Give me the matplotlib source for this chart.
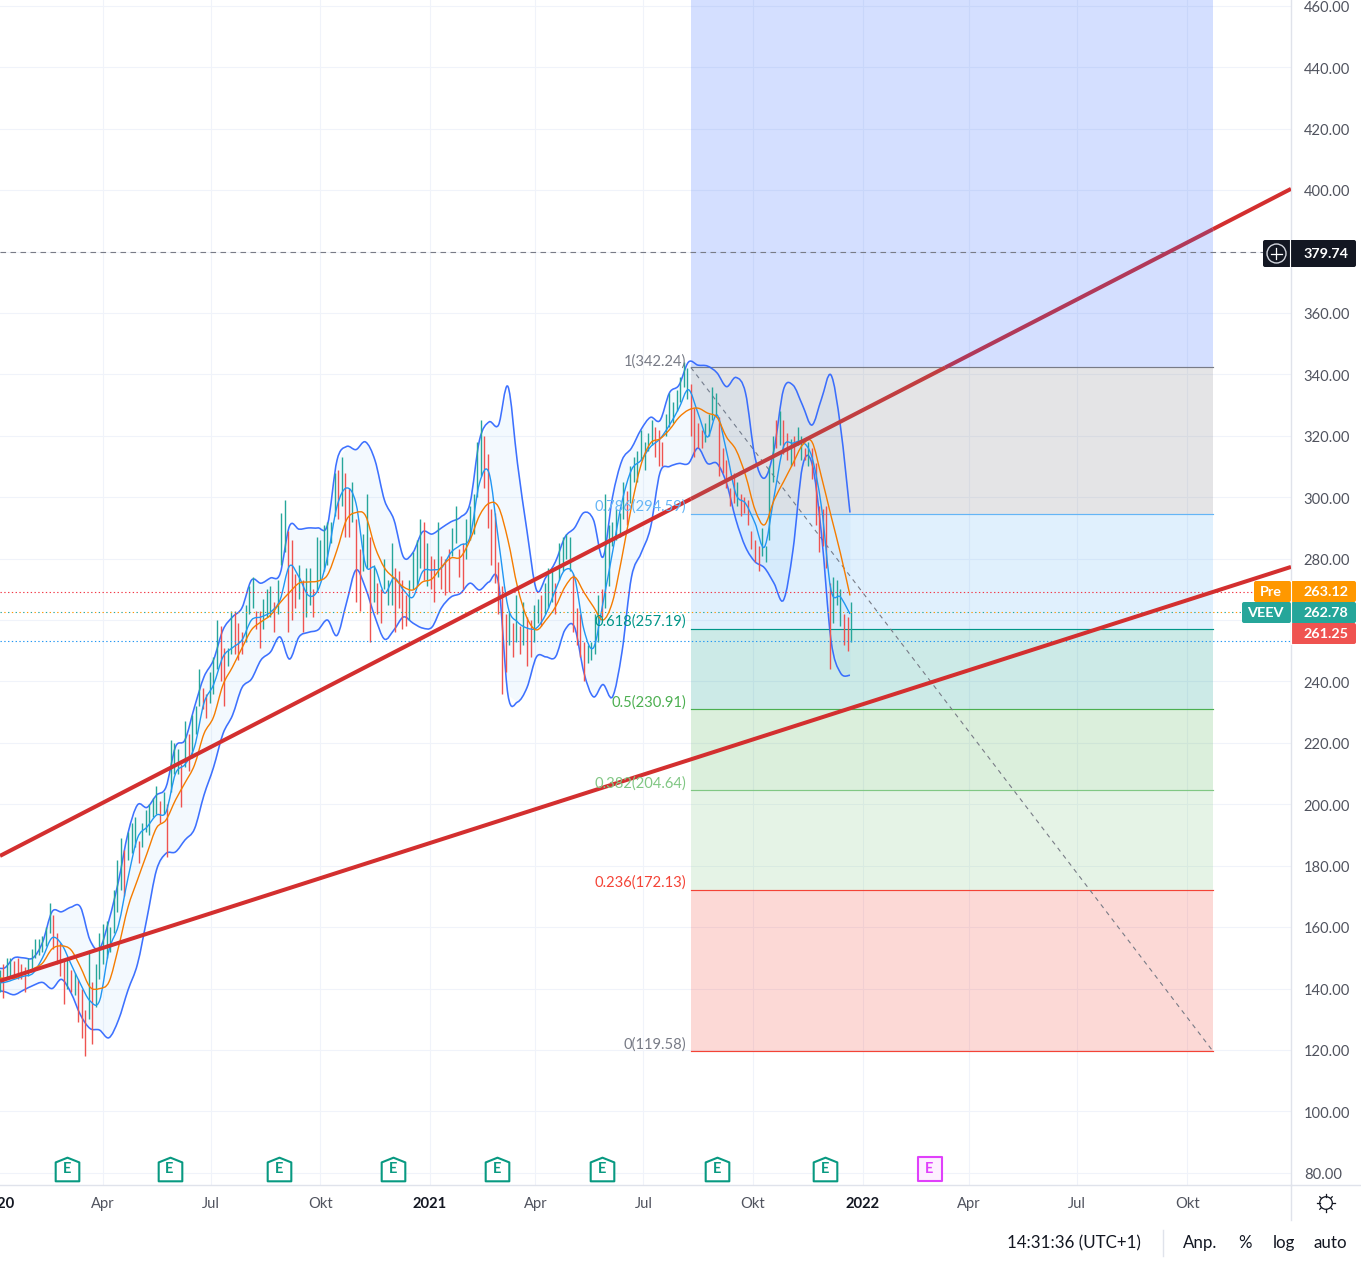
from matplotlib import pyplot as plt
from matplotlib.patches import Circle, FancyBboxPatch, PathPatch
from matplotlib.path import Path
from matplotlib.transforms import ScaledTranslation
import numpy as np

plt.rcParams['font.family'] = ['Lato', 'DejaVu Sans']

# price bars, one every 3 days starting from day 4 (days since 2020-01-01)
bar_high = [146,148,150,150,149,150,148,147,150,153,156,156,157,160,168,164,158,155,149,150,146,145,143,140,133,152,142,148,158,
            161,162,160,172,182,189,185,191,194,196,188,194,198,200,202,206,201,204,200,221,220,218,213,227,223,229,232,244,
            238,236,243,248,260,258,251,251,263,263,259,256,265,271,274,263,263,267,270,271,266,273,295,299,289,286,275,278,
            273,277,277,270,287,286,291,292,292,308,309,313,308,303,305,293,283,288,301,287,278,272,270,280,273,285,277,276,
            273,268,273,282,286,293,292,285,281,280,292,281,280,283,290,297,283,285,293,297,301,318,325,320,314,296,295,279,
            271,262,263,259,268,258,266,261,260,265,267,268,272,277,277,272,285,287,288,287,275,264,262,253,252,253,262,268,
            270,301,291,292,296,295,305,302,310,313,315,322,318,321,325,323,322,318,327,334,331,335,339,344,342,337,329,324,
            322,324,327,336,334,326,316,312,303,308,305,301,300,299,289,286,284,290,284,310,320,325,328,325,321,319,320,323,
            320,316,318,316,311,297,296,297,272,274,273,270,262,261,266]
bar_low = [139,137,143,144,143,143,143,139,144,146,150,151,152,154,158,153,148,144,135,140,139,138,129,124,118,130,122,134,143,
           148,150,152,158,165,172,170,182,184,186,181,186,191,190,196,197,194,197,183,204,210,210,199,212,211,215,223,232,
           231,228,233,236,244,240,232,245,249,249,247,249,253,262,264,257,251,257,261,261,256,262,278,282,256,260,264,267,
           256,261,265,261,269,273,276,278,285,294,293,297,287,287,292,266,263,276,277,253,266,262,259,270,265,265,256,264,
           257,258,260,270,271,277,273,271,270,266,274,270,268,269,281,285,274,270,280,286,288,300,307,303,290,278,272,262,
           236,243,252,248,253,249,252,245,248,253,259,258,262,264,266,262,273,276,280,276,256,252,248,240,246,247,249,253,
           261,264,271,284,286,287,293,291,298,305,305,312,309,315,317,313,310,310,320,323,324,328,331,336,332,320,313,316,
           316,318,320,325,326,307,308,303,297,298,297,294,295,291,283,279,276,281,279,286,305,316,317,314,312,310,310,317,
           312,312,310,306,291,282,284,277,244,259,265,258,252,250,253]
bar_up = [1,0,1,1,0,0,0,0,1,1,1,1,1,1,1,0,0,0,0,1,0,1,0,0,0,1,0,1,1,
          1,1,1,1,1,1,0,1,1,1,0,1,1,1,1,1,0,1,0,1,1,1,0,1,0,1,1,1,
          0,0,1,1,1,0,0,1,1,0,0,0,1,1,1,0,0,1,1,1,0,1,1,1,0,0,0,1,
          0,1,1,0,1,1,1,1,1,1,0,1,0,0,1,0,0,1,1,0,1,0,0,1,1,1,0,0,
          0,0,1,1,1,1,0,1,0,0,1,0,0,0,1,1,0,0,1,1,1,1,1,0,0,0,0,0,
          0,0,1,0,1,0,1,0,0,1,1,0,1,1,1,0,1,1,1,1,0,0,0,0,1,1,1,1,
          0,1,1,1,1,1,1,0,1,1,1,1,1,1,1,0,0,0,1,1,1,1,1,1,1,0,0,0,
          0,1,1,1,1,0,0,0,0,0,1,0,0,0,0,0,0,1,1,1,1,0,1,0,0,1,0,1,
          1,0,1,0,0,0,0,0,0,1,1,1,0,0,1]

# bollinger band and moving averages, one value every 8 days
band_upper = [147,146.7,150,150,150,155,165,165,166.5,166.5,
              155.8,153,162.3,175,190.6,199.8,199,203,205.6,218.7,
              221,231.7,241.5,247,256.8,261,264,273,272,273.7,
              275,290.6,289.6,290,290,291,312,316.5,315.5,318,
              312,299,292.6,280.5,282,288.7,288,290,292,293.5,
              298,318.6,324.5,323.5,336,311,289,269.8,274,279,
              287,290,295,292.6,280.5,300,312,316,322,326,
              325,334,336.5,344,343,342.7,340.5,336,339,334,
              313,306.2,315.4,335,336.5,330,323.5,332,339.8,323,295]
band_lower = [139.5,139,138,139.5,141,142,140,143,138.6,131.4,
              127,126.5,124,129.8,139.5,148,163,178.6,184,184.5,
              188.4,192,203,212,223,229,238,240.8,247,249.6,
              254.5,247.3,254.5,256,256.8,260,255,265.6,276.3,270.4,
              261,253.8,256.8,261,259,257.4,257.7,264,267.5,268.7,
              272,269.8,272.4,272,235.6,233.3,238,248,248,248,
              256.8,257.7,242.8,235,239,235,249.6,274,281.7,290,
              308,310,311,311,316,311,311,304.6,292.6,283.8,
              279,277,272,266.5,282.8,310,311,288,253.5,242.8,242]
ma_fast = [142,142,143,144,145,150,156.5,154.5,148,141.5,
           136,136,152.5,160.7,176,189,192.6,196.5,197.5,210,
           213,218.7,233,238.9,248,251,253.5,260,261,262.6,
           266.5,277.6,274,268,269.8,280.5,297,303,298,278,
           277,268.8,273.7,269.8,267.5,275.7,276.3,277,282,284.4,
           287,304.6,307.9,286,264.3,259.4,257.4,257.4,262,269.8,
           276.3,274,256.8,251,265.6,282,298.5,308.9,312,316.4,
           319,323.5,329,335,327.4,319.6,326.8,315,301,298,
           291.6,283.8,300,316.4,317.6,318,313,296.8,269.8,267.5,262]
ma_slow = [143.4,143.4,143.4,144.7,146.4,148.3,152.9,153.9,152.6,147,
           140.5,140,142.2,153.5,166.5,175.4,184,192.3,194.9,201.4,
           207,212.8,223,228.4,238.9,244.7,250.9,256.8,259.4,261.6,
           265.6,269,272,272.4,272.7,274.7,282.8,292.6,295,294,
           283.8,277,273.7,270.8,269.8,272.4,273.4,277.3,280.2,280.5,
           286,294,298,296.8,286,270.8,260.7,256.8,260,264.3,
           270.8,274,269,264.3,260,265.9,280.5,297,310.5,317.6,
           319,322,326,328.4,329,327.4,326,319.6,315.4,307.2,
           296,291,299,305,311,317,318,306.6,294,281.7,268]

# drawn lines
trend_days = [4.2, 1091.4]
trend_upper = [183.2, 400.4]
trend_lower = [142.5, 277.3]

# fib levels, top to bottom
fib_start = 586
fib_end = 1025.7
fib_levels = [342.24, 294.59, 257.19, 230.91, 204.64, 172.13, 119.58]
fib_names = ['1', '0.786', '0.618', '0.5', '0.382', '0.236', '0']
fib_colors = ['#787b86', '#64b5f6', '#009688', '#4caf50', '#81c784', '#f44336', '#f44336']
fib_text_colors = ['#787b86', '#64b5f6', '#009688', '#4caf50', '#81c784', '#f44336', '#787b86']
fib_fills = ['#787b86', '#64b5f6', '#009688', '#4caf50', '#81c784', '#f44336']
fib_label_y = [344.2, 297, 259.6, 233.2, 206.8, 174.6, 121.8]

# horizontal price lines
alert_price = 379.74
last_price = 262.78
high_dotted = 269.1
low_dotted = 253.2

# earnings days
earnings_days = [61, 147, 239, 335, 423, 511, 608, 699]
earnings_next = [787]

y_ticks = list(range(80, 480, 20))
x_ticks = [91, 182, 274, 366, 455, 546, 638, 731, 820, 911, 1004]
x_labels = ['Apr', 'Jul', 'Okt', '2021', 'Apr', 'Jul', 'Okt', '2022', 'Apr', 'Jul', 'Okt']


# smooth curve through the read points, like the chart's own anti-aliased line
def curve(days, values):
    pts = np.column_stack([days, values]).astype(float)
    verts = [pts[0]]
    codes = [Path.MOVETO]
    for i in range(len(pts) - 1):
        p0 = pts[max(i - 1, 0)]
        p1 = pts[i]
        p2 = pts[i + 1]
        p3 = pts[min(i + 2, len(pts) - 1)]
        verts += [p1 + (p2 - p0) / 6, p2 - (p3 - p1) / 6, p2]
        codes += [Path.CURVE4, Path.CURVE4, Path.CURVE4]
    return Path(verts, codes)


fig = plt.figure(figsize=(13.61, 12.67), dpi=100)
ax = fig.add_axes([0, 82 / 1267, 1291 / 1361, 1185 / 1267])
ax.set_xlim(4.21, 1091.4)
ax.set_ylim(76.04, 461.9)

# axis look
for name in ['top', 'left']:
    ax.spines[name].set_visible(False)
for name in ['right', 'bottom']:
    ax.spines[name].set_color('#e0e3eb')
    ax.spines[name].set_linewidth(1.0)
ax.yaxis.tick_right()
ax.set_yticks(y_ticks)
ax.set_yticklabels(['%.2f' % v for v in y_ticks])
ax.set_xticks(x_ticks)
ax.set_xticklabels(x_labels)
ax.tick_params(axis='y', length=0, pad=9.2, labelsize=10.6, labelcolor='#50535e')
ax.tick_params(axis='x', length=0, pad=8.5, labelsize=10.6, labelcolor='#50535e')
shift_down = ScaledTranslation(0, -0.8 / 100, fig.dpi_scale_trans)
for lab in ax.get_yticklabels():
    lab.set_transform(lab.get_transform() + shift_down)
for lab in ax.get_xticklabels():
    if lab.get_text().startswith('20'):
        lab.set_fontweight('bold')
        lab.set_color('#131722')
ax.text(2, 72.2, '2020', fontsize=10.6, fontweight='bold', color='#131722', ha='center',
        va='top', clip_on=False)
ax.grid(color='#f0f3fa', lw=0.8, zorder=0)
ax.set_axisbelow(True)

# fib blocks, gridlines show through
ax.fill_between([fib_start, fib_end], fib_levels[0], 461.9, color='#2962ff', alpha=0.2, lw=0, zorder=1)
for i in range(len(fib_fills)):
    ax.fill_between([fib_start, fib_end], fib_levels[i + 1], fib_levels[i],
                    color=fib_fills[i], alpha=0.2, lw=0, zorder=1)
for i in range(len(fib_levels)):
    ax.plot([fib_start, fib_end], [fib_levels[i], fib_levels[i]], color=fib_colors[i], lw=0.85, zorder=2)
ax.plot([fib_start, fib_end], [fib_levels[0], fib_levels[-1]], color='#787b86', lw=0.8,
        dashes=(4, 4), zorder=2)

# bands
band_days = np.arange(len(band_upper)) * 8
ax.fill_between(band_days, band_lower, band_upper, color='#2196f3', alpha=0.05, lw=0, zorder=3)
ax.add_patch(PathPatch(curve(band_days, band_upper), fc='none', ec='#2962ff', lw=1.15, alpha=0.9, zorder=4))
ax.add_patch(PathPatch(curve(band_days, band_lower), fc='none', ec='#2962ff', lw=1.15, alpha=0.9, zorder=4))

# bars
bar_days = 4 + 3 * np.arange(len(bar_high))
bar_colors = ['#26a69a' if u else '#ef5350' for u in bar_up]
bars = ax.vlines(bar_days, bar_low, bar_high, colors=bar_colors, lw=1.0, zorder=5)
bars.set_snap(True)

ax.add_patch(PathPatch(curve(band_days, ma_fast), fc='none', ec='#2196f3', lw=1.0, zorder=6))
ax.add_patch(PathPatch(curve(band_days, ma_slow), fc='none', ec='#f57c00', lw=1.0, zorder=6))

# price lines
ax.axhline(high_dotted, color='#f23645', lw=0.8, ls=(0, (1.2, 2.2)), zorder=6)
ax.axhline(last_price, color='#26a69a', lw=0.8, ls=(0, (1.2, 5.6)), zorder=6)
ax.axhline(last_price, color='#ff9800', lw=0.8, ls=(3.4, (1.2, 5.6)), zorder=6)
ax.axhline(low_dotted, color='#2196f3', lw=0.8, ls=(0, (1.2, 2.2)), zorder=6)
ax.axhline(alert_price, color='#787b86', lw=0.8, dashes=(5, 4), zorder=6)

# trend lines; the upper one runs under the fib blocks so it takes their tint there
cross_day = np.interp(fib_levels[0], trend_upper, trend_days)
upper_parts = [(trend_days[0], fib_start, '#d32f2f'),
               (fib_start, cross_day, '#c13e40'),
               (cross_day, fib_end, '#b13959'),
               (fib_end, trend_days[1], '#d32f2f')]
for d0, d1, col in upper_parts:
    ax.plot([d0, d1], np.interp([d0, d1], trend_days, trend_upper), color=col, lw=2.9, zorder=7,
            solid_capstyle='butt')
ax.plot(trend_days, trend_lower, color='#d32f2f', lw=2.9, zorder=7, solid_capstyle='butt')

# fib labels
for i in range(len(fib_levels)):
    ax.text(fib_start - 4, fib_label_y[i], '%s(%.2f)' % (fib_names[i], fib_levels[i]),
            color=fib_text_colors[i], fontsize=10.6, ha='right', va='center', zorder=8)

# earnings markers
house = Path([(-1, -1), (1, -1), (1, 0.6), (0, 1), (-1, 0.6), (-1, -1)], closed=True)
square = Path([(-1, -1), (1, -1), (1, 1), (-1, 1), (-1, -1)], closed=True)
marker_y = 81.3
ax.plot(earnings_days, [marker_y] * len(earnings_days), ls='none', marker=house, ms=17,
        mfc='white', mec='#089981', mew=1.5, zorder=9, clip_on=False)
ax.plot(earnings_next, [marker_y] * len(earnings_next), ls='none', marker=square, ms=17,
        mfc='#fdf0ff', mec='#e040fb', mew=1.5, zorder=9, clip_on=False)
for d in earnings_days:
    ax.text(d, marker_y - 0.2, 'E', color='#089981', fontsize=10.5, fontweight='bold',
            ha='center', va='center', zorder=10)
for d in earnings_next:
    ax.text(d, marker_y, 'E', color='#e040fb', fontsize=10.5, fontweight='bold',
            ha='center', va='center', zorder=10)

# price scale tags and bottom toolbar, in screen pixels
ov = fig.add_axes([0, 0, 1, 1], zorder=20)
ov.set_xlim(0, 1361)
ov.set_ylim(1267, 0)
ov.axis('off')
ov.patch.set_alpha(0)


def tag(x0, x1, y0, y1, color):
    ov.add_patch(FancyBboxPatch((x0 + 2, y0 + 2), x1 - x0 - 4, y1 - y0 - 4, boxstyle='round,pad=2',
                                fc=color, ec='none'))


tag(1254, 1291, 581, 602, '#ff9800')
tag(1291, 1356, 581, 602, '#ff9800')
tag(1242, 1291, 602, 623, '#26a69a')
tag(1291, 1356, 602, 623, '#26a69a')
tag(1291, 1356, 623, 644, '#ef5350')
tag(1263, 1356, 240, 267, '#131722')
ov.plot([1291, 1291], [581, 644], color='white', lw=0.8)
ov.plot([1290.5, 1290.5], [240, 267], color='white', lw=0.8)

label_kw = dict(color='white', fontsize=10.4, ha='center', va='center', fontweight='bold')
ov.text(1271, 592, 'Pre', **label_kw)
ov.text(1265, 613, 'VEEV', **label_kw)
ov.text(1326, 592, '263.12', **label_kw)
ov.text(1326, 613, '262.78', **label_kw)
ov.text(1326, 634, '261.25', **label_kw)
ov.text(1326, 254, '379.74', **label_kw)
ov.add_patch(Circle((1276.5, 253.5), 9.5, fc='none', ec='#d1d4dc', lw=1))
ov.plot([1271, 1282], [253.5, 253.5], color='white', lw=0.9)
ov.plot([1276.5, 1276.5], [248, 259], color='white', lw=0.9)

# axis corner lines
ov.plot([1291, 1361], [1185, 1185], color='#e0e3eb', lw=1.0)
ov.plot([1291, 1291], [1185, 1220], color='#e0e3eb', lw=1.0)

# settings icon
ov.add_patch(Circle((1326, 1203), 6.3, fc='none', ec='#131722', lw=0.9))
for a in np.arange(0, 360, 45):
    r = np.radians(a)
    ov.plot([1326 + 6.3 * np.cos(r), 1326 + 8.8 * np.cos(r)],
            [1203 + 6.3 * np.sin(r), 1203 + 8.8 * np.sin(r)], color='#131722', lw=0.9)

# status bar
status_kw = dict(color='#131722', fontsize=12.2, ha='center', va='center')
ov.text(1073.5, 1243, '14:31:36 (UTC+1)', **status_kw)
ov.text(1200.5, 1243, 'Anp.', **status_kw)
ov.text(1245, 1243, '%', **status_kw)
ov.text(1283.5, 1243, 'log', **status_kw)
ov.text(1330, 1243, 'auto', **status_kw)
ov.plot([1163, 1163], [1230, 1256], color='#e0e3eb', lw=1.0)

fig.savefig('out.png', dpi=100)
